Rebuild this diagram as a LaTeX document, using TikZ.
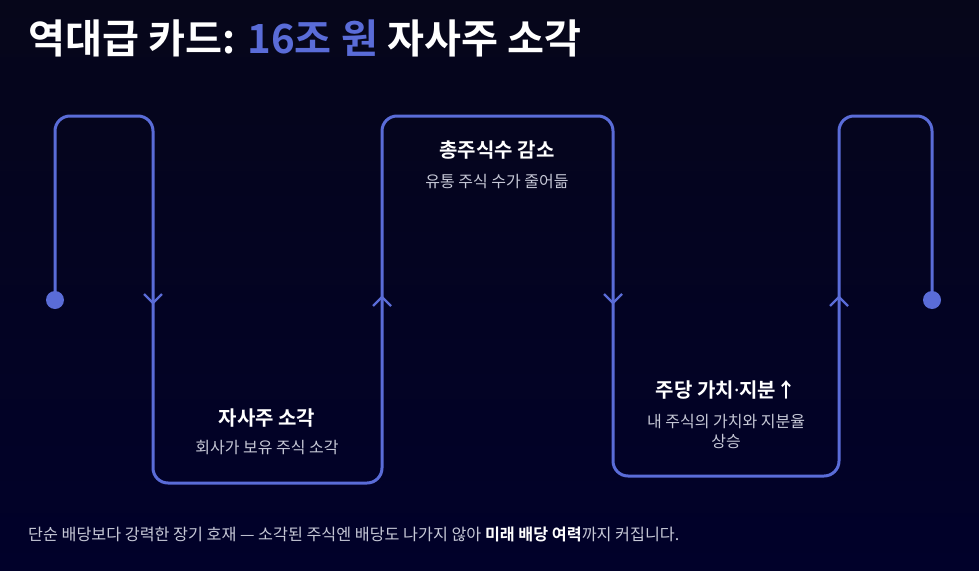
\documentclass[tikz,border=0pt]{standalone}
\usepackage{fontspec}
\setmainfont{Noto Sans CJK KR}
\newfontfamily\krbold{Noto Sans CJK KR Bold}
\newfontfamily\latinsans{Noto Sans}
\definecolor{bgtop}{HTML}{06061A}
\definecolor{bgbot}{HTML}{01012A}
\definecolor{flowblue}{HTML}{5A6CD8}
\definecolor{subgray}{HTML}{C6C8D6}
\tikzset{
  flow/.style={draw=flowblue, line width=3pt, rounded corners=15pt},
  chev/.style={draw=flowblue, line width=2.2pt},
  enddot/.style={circle, fill=flowblue, minimum size=18pt, inner sep=0pt},
  headtxt/.style={text=white, font=\krbold\fontsize{20}{24}\selectfont, inner sep=0pt},
  subtxt/.style={text=subgray, font=\fontsize{16}{20}\selectfont, inner sep=0pt},
}
\begin{document}
\begin{tikzpicture}[x=1pt,y=-1pt]
\useasboundingbox (0,0) rectangle (979,570);
\shade[top color=bgtop, bottom color=bgbot] (0,0) rectangle (979,570);
% title
\node[anchor=base west, inner sep=0pt, text=white, font=\krbold\fontsize{40.2}{44}\selectfont] (title) at (28,53) {역대급 카드: \textcolor{flowblue}{16조 원} 자사주 소각};
% path points
\node[enddot] (d1) at (55,300) {};
\node[enddot] (d2) at (932,300) {};
\coordinate (p1) at (55,116);
\coordinate (p2) at (153,116);
\coordinate (p3) at (153,483);
\coordinate (p4) at (382,483);
\coordinate (p5) at (382,116);
\coordinate (p6) at (613,116);
\coordinate (p7) at (613,476);
\coordinate (p8) at (839,476);
\coordinate (p9) at (839,116);
\coordinate (p10) at (932,116);
\draw[flow] (d1.center) -- (p1) -- (p2) -- (p3) -- (p4) -- (p5) -- (p6) -- (p7) -- (p8) -- (p9) -- (p10) -- (d2.center);
% chevrons
\coordinate (a1) at (153,303);
\coordinate (a2) at (382,297);
\coordinate (a3) at (613,303);
\coordinate (a4) at (839,297);
\draw[chev] ([shift={(-9,-9)}]a1) -- (a1) -- ([shift={(9,-9)}]a1);
\draw[chev] ([shift={(-9,9)}]a2) -- (a2) -- ([shift={(9,9)}]a2);
\draw[chev] ([shift={(-9,-9)}]a3) -- (a3) -- ([shift={(9,-9)}]a3);
\draw[chev] ([shift={(-9,9)}]a4) -- (a4) -- ([shift={(9,9)}]a4);
% labels
\node[headtxt, anchor=base] (h1) at (267,425) {자사주 소각};
\node[subtxt, anchor=base] (s1) at (267,453) {회사가 보유 주식 소각};
\node[headtxt, anchor=base] (h2) at (497,157) {총주식수 감소};
\node[subtxt, anchor=base] (s2) at (497,187) {유통 주식 수가 줄어듦};
\node[headtxt, anchor=base] (h3) at (726,397) {주당 가치{\latinsans\bfseries ·}지분↑};
\node[subtxt, anchor=base] (s3) at (726,427) {내 주식의 가치와 지분율};
\node[subtxt, anchor=base] (s3b) at (726,447) {상승};
% footer
\node[anchor=base west, inner sep=0pt, text=subgray, font=\fontsize{16.2}{20}\selectfont] (foot) at (28,540) {단순 배당보다 강력한 장기 호재 — 소각된 주식엔 배당도 나가지 않아 \textcolor{white}{\krbold 미래 배당 여력}까지 커집니다.};
\end{tikzpicture}
\end{document}
